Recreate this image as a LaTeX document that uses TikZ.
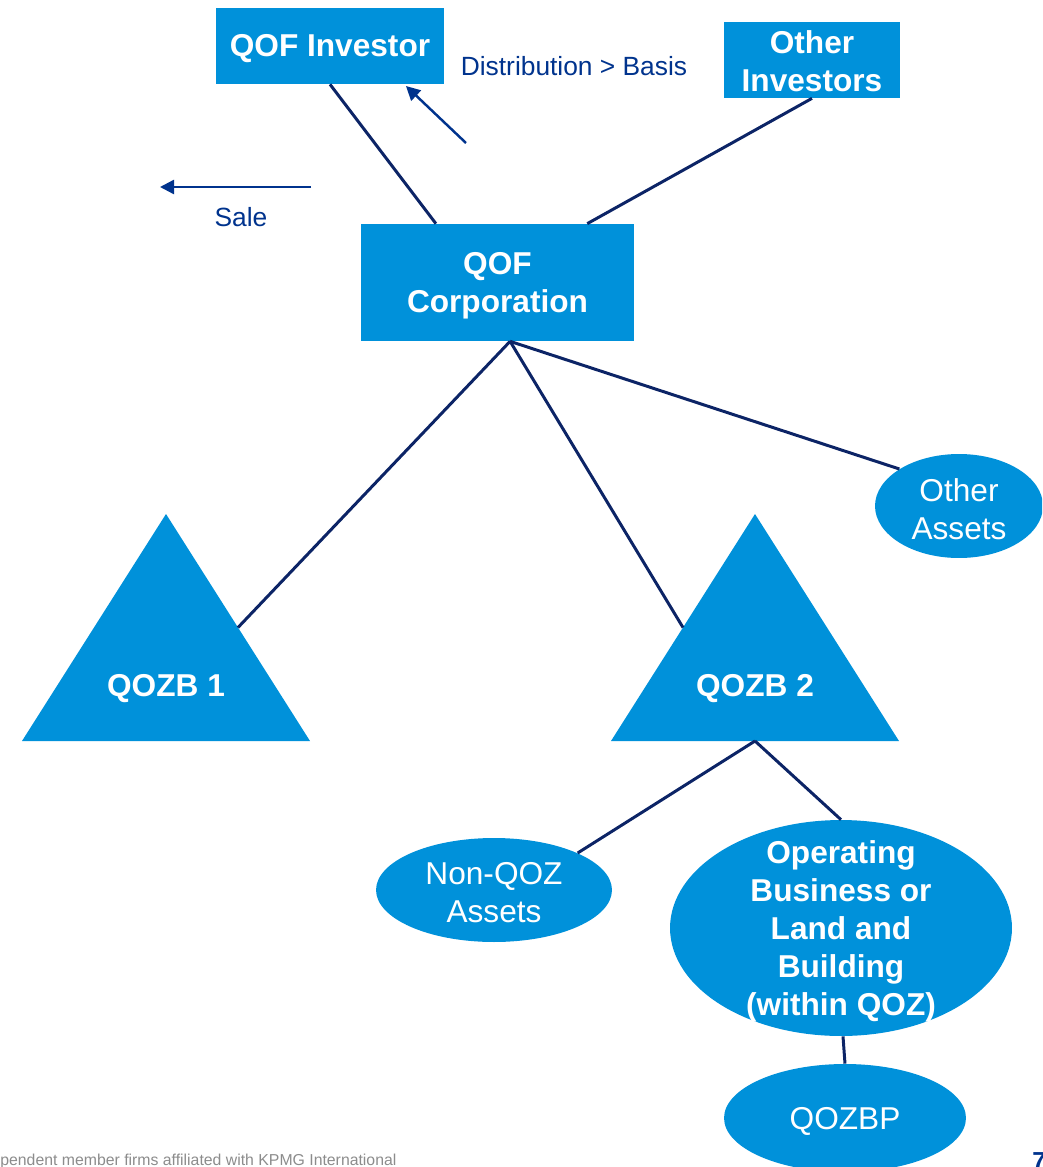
\documentclass[tikz,border=0pt]{standalone}
\usepackage{fontspec}
\setmainfont{Liberation Sans}
\usepackage{tikz}
\usetikzlibrary{calc,positioning,shapes.geometric,arrows.meta}

\definecolor{kpmgblue}{HTML}{0091DA}
\definecolor{kpmgnavy}{HTML}{00338D}
\definecolor{linenavy}{HTML}{0C2466}
\definecolor{footgray}{HTML}{8C8C8C}

\tikzset{
  box/.style={rectangle, fill=kpmgblue, inner sep=0pt},
  blob/.style={ellipse, fill=kpmgblue, inner sep=0pt},
  blobtext/.style={text=white, align=center, yshift=-0.06cm, font=\fontsize{18}{21.6}\selectfont},
  boldtext/.style={text=white, align=center, yshift=-0.06cm, font=\fontsize{18}{21.6}\selectfont\bfseries},
  link/.style={draw=linenavy, line width=1.7pt},
  flow/.style={draw=kpmgnavy, line width=1.4pt, -{Triangle[length=8pt,width=8pt]}},
  note/.style={text=kpmgnavy, font=\fontsize{15}{18}\selectfont}
}

\begin{document}
\begin{tikzpicture}[x=0.02cm, y=-0.02cm]
        \useasboundingbox (0,0) rectangle (1042,1167);
        \clip (0,0) rectangle (1042,1167);

        % boxes
        \node[box, minimum width=4.56cm, minimum height=1.52cm,
          label={[boldtext]center:QOF Investor}] (inv) at (330,46) {};
        \node[box, minimum width=3.52cm, minimum height=1.52cm,
          label={[boldtext, yshift=0.04cm]center:Other\\Investors}] (oth) at (812,60) {};
        \node[box, minimum width=5.46cm, minimum height=2.34cm,
          label={[boldtext]center:QOF\\Corporation}] (corp) at (497.5,282.5) {};

        % triangle 1
        \coordinate (t1top) at (166,514);
        \coordinate (t1right) at (310,741);
        \coordinate (t1left) at (22,741);
        % triangle 2
        \coordinate (t2top) at (755,514);
        \coordinate (t2right) at (899,741);
        \coordinate (t2left) at (611,741);

        \fill[kpmgblue] (t1top) -- (t1right) -- (t1left) -- cycle;
        \fill[kpmgblue] (t2top) -- (t2right) -- (t2left) -- cycle;
        \node[boldtext] (zb1) at (166,686) {QOZB 1};
        \node[boldtext] (zb2) at (755,686) {QOZB 2};

        % ellipses
        \node[blob, minimum width=3.36cm, minimum height=2.08cm,
          label={[blobtext]center:Other\\Assets}] (oas) at (959,506) {};
        \node[blob, minimum width=4.72cm, minimum height=2.08cm,
          label={[blobtext]center:Non-QOZ\\Assets}] (nqa) at (494,890) {};
        \node[blob, minimum width=6.84cm, minimum height=4.32cm,
          label={[boldtext]center:Operating\\Business or\\Land and\\Building\\(within QOZ)}] (opb) at (841,928) {};
        \node[blob, minimum width=4.84cm, minimum height=2.16cm,
          label={[blobtext]center:QOZBP}] (qbp) at (845,1118) {};

        % ownership lines
        \draw[link] (inv.south) -- ($(corp.north west)!0.275!(corp.north east)$);
        \draw[link] (oth.south) -- ($(corp.north west)!0.828!(corp.north east)$);
        \coordinate (cbot) at ($(corp.south west)!0.546!(corp.south east)$);
        \draw[link] (cbot) -- ($(t1top)!0.5!(t1right)$);
        \draw[link] (cbot) -- ($(t2top)!0.5!(t2left)$);
        \draw[link] (cbot) -- (oas.north west);
        \coordinate (t2bot) at ($(t2left)!0.5!(t2right)$);
        \draw[link] (t2bot) -- (nqa.north east);
        \draw[link] (t2bot) -- (opb.north);
        \draw[link] ([xshift=0.04cm]opb.south) -- (qbp.north);

        % distribution and sale
        \coordinate (dstart) at (466,143);
        \coordinate (dend) at (406,86);
        \draw[flow] (dstart) -- (dend);
        \node[note] (dist) at (574,66) {Distribution > Basis};

        \coordinate (sstart) at (311,187);
        \coordinate (send) at (160,187);
        \draw[flow] (sstart) -- (send);
        \node[note] (sale) at (241,217) {Sale};

        % footer
        \node[anchor=base west, inner sep=0pt, text=footgray, font=\fontsize{9}{10}\selectfont] (foot) at (0,1165)
          {pendent member firms affiliated with KPMG International};
        \node[anchor=north west, inner sep=0pt, text=kpmgnavy, font=\fontsize{14}{16}\selectfont\bfseries] (pg) at (1032,1152) {7};

    \end{tikzpicture}
\end{document}
